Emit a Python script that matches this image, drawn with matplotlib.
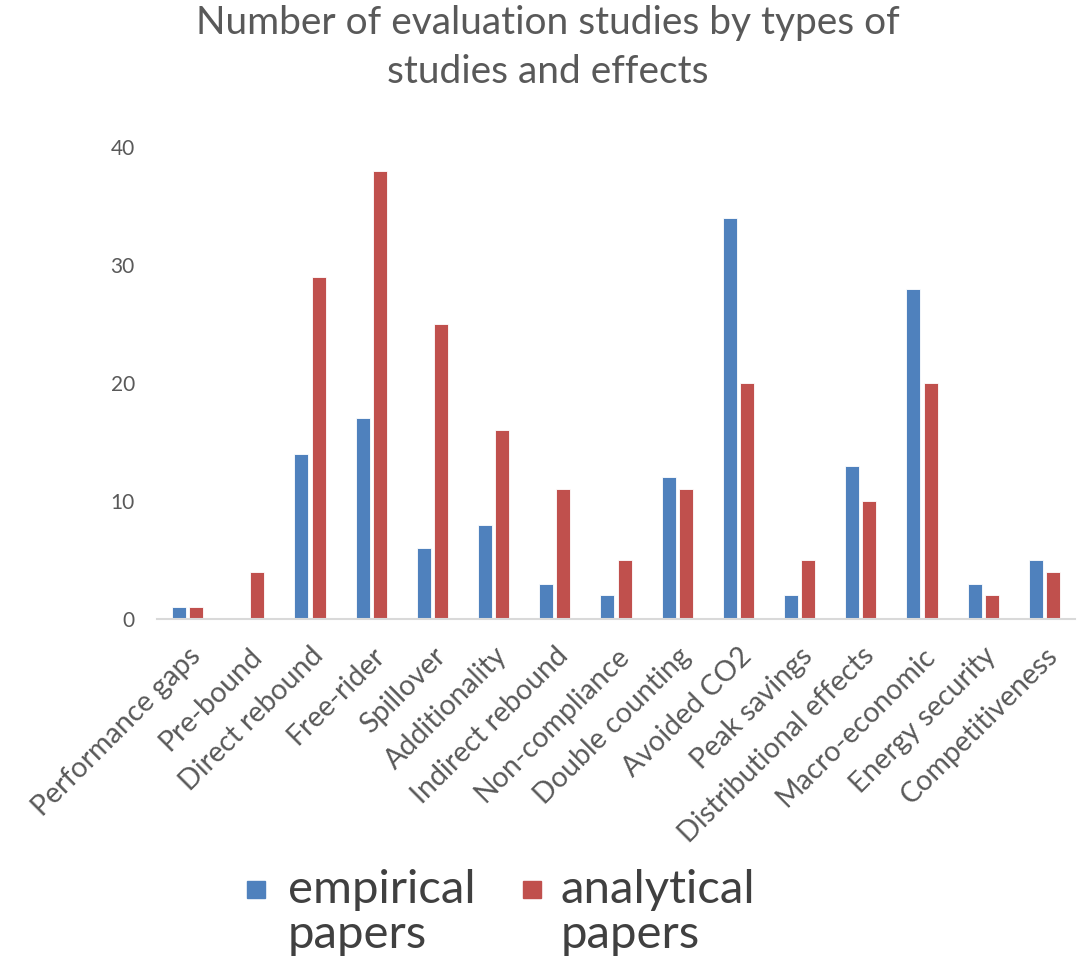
import numpy as np
import matplotlib.pyplot as plt
from matplotlib.patches import Rectangle

categories = ['Performance gaps', 'Pre-bound', 'Direct rebound', 'Free-rider', 'Spillover',
              'Additionality', 'Indirect rebound', 'Non-compliance', 'Double counting',
              'Avoided CO2', 'Peak savings', 'Distributional effects', 'Macro-economic',
              'Energy security', 'Competitiveness']
empirical = [1, 0, 14, 17, 6, 8, 3, 2, 12, 34, 2, 13, 28, 3, 5]
analytical = [1, 4, 29, 38, 25, 16, 11, 5, 11, 20, 5, 10, 20, 2, 4]
series_names = ['empirical\npapers', 'analytical\npapers']

blue = '#4F81BD'
red = '#C0504D'
grey = '#595959'

plt.rcParams['font.family'] = ['Lato', 'DejaVu Sans']

fig = plt.figure(figsize=(10.8, 9.61), dpi=100)
ax = fig.add_axes([157 / 1080, 1 - 619 / 961, 918 / 1080, (619 - 147) / 961])

x = np.arange(len(categories))
w = 0.23
ax.bar(x - w / 2 - 0.025, empirical, w, color=blue, edgecolor='white', linewidth=0.6)
ax.bar(x + w / 2 + 0.025, analytical, w, color=red, edgecolor='white', linewidth=0.6)

ax.set_xlim(-0.5, len(categories) - 0.5)
ax.set_ylim(0, 40)
ax.set_yticks([0, 10, 20, 30, 40])
ax.set_xticks(x)
ax.set_xticklabels(categories, rotation=45, ha='right', rotation_mode='anchor',
                   fontsize=20.5, color=grey)
ax.tick_params(axis='y', length=0, labelsize=15, labelcolor=grey, pad=16)
ax.tick_params(axis='x', length=0, pad=17)
for s in ['top', 'right', 'left']:
    ax.spines[s].set_visible(False)
ax.spines['bottom'].set_color('#D9D9D9')
ax.spines['bottom'].set_linewidth(1.5)

fig.text(0.507, 0.995, 'Number of evaluation studies by types of\nstudies and effects',
         ha='center', va='top', fontsize=28, color=grey, linespacing=1.45)

# legend drawn by hand so the swatches line up with the first text line
for xs, xt, c, name in [(247, 288, blue, series_names[0]), (523, 561, red, series_names[1])]:
    fig.patches.append(Rectangle((xs / 1080, 1 - 898 / 961), 18 / 1080, 17 / 961,
                                 transform=fig.transFigure, color=c))
    fig.text(xt / 1080, 1 - 869 / 961, name, ha='left', va='top', fontsize=34,
             color='#404040', linespacing=1.1)

fig.savefig('out.png', dpi=100)
